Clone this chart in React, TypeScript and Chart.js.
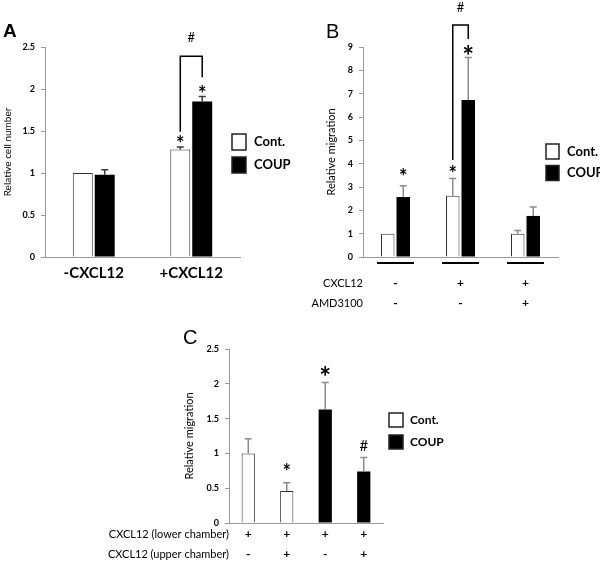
import React, { useEffect, useRef } from 'react';
import { Chart, registerables } from 'chart.js';
Chart.register(...registerables);

const FONT = 'Lato, "Open Sans", sans-serif';
const LETTER_FONT = '"Liberation Sans", Arial, sans-serif';

// ---------- Panel A data ----------
const aCategories = ['-CXCL12', '+CXCL12'];
const aCont = [1.0, 1.28];
const aContErr = [0, 0.03];
const aCoup = [0.98, 1.85];
const aCoupErr = [0.06, 0.06];

// ---------- Panel B data ----------
const bCxcl12 = ['-', '+', '+'];
const bAmd3100 = ['-', '-', '+'];
const bCont = [1.0, 2.63, 1.0];
const bContErr = [0, 0.73, 0.14];
const bCoup = [2.57, 6.73, 1.76];
const bCoupErr = [0.48, 1.82, 0.38];

// ---------- Panel C data ----------
const cLower = ['+', '+', '+', '+'];
const cUpper = ['-', '+', '-', '+'];
const cCont = [1.0, 0.46, null, null];
const cContErr = [0.21, 0.12, 0, 0];
const cCoup = [null, null, 1.63, 0.74];
const cCoupErr = [0, 0, 0.39, 0.2];

const seriesNames = ['Cont.', 'COUP'];

const decoPlugin: any = {
  id: 'deco',
  afterDatasetsDraw(chart: any, _a: any, o: any) {
    const ctx = chart.ctx;
    const ys = chart.scales.y;
    chart.data.datasets.forEach((ds: any, di: number) => {
      const meta = chart.getDatasetMeta(di);
      meta.data.forEach((el: any, i: number) => {
        const v = ds.data[i];
        const e = ds.errors ? ds.errors[i] : 0;
        if (v == null || !e) return;
        const top = ys.getPixelForValue(v + e);
        ctx.save();
        ctx.strokeStyle = o.errColor;
        ctx.lineWidth = o.errWidth;
        ctx.beginPath();
        ctx.moveTo(el.x, el.y);
        ctx.lineTo(el.x, top);
        ctx.moveTo(el.x - o.cap, top);
        ctx.lineTo(el.x + o.cap, top);
        ctx.stroke();
        ctx.restore();
      });
    });
  },
  afterDraw(chart: any, _a: any, o: any) {
    const ctx = chart.ctx;
    const ys = chart.scales.y;
    const xs = chart.scales.x;
    const barX = (ds: number, cat: number) => chart.getDatasetMeta(ds).data[cat].x;
    ctx.save();
    ctx.fillStyle = '#000';
    // panel letter
    ctx.font = o.letter.font;
    ctx.textAlign = 'left';
    ctx.textBaseline = 'alphabetic';
    ctx.fillText(o.letter.text, o.letter.x, o.letter.y);
    // significance marks
    (o.marks || []).forEach((m: any) => {
      const x = barX(m.ds, m.cat);
      const y = ys.getPixelForValue(m.y);
      ctx.font = `${m.text === '*' ? 'bold ' : ''}${m.size}px ${FONT}`;
      ctx.textAlign = 'center';
      if (m.text === '*') {
        ctx.textBaseline = 'alphabetic';
        ctx.fillText('*', x, y + m.size * 0.57);
      } else {
        ctx.textBaseline = 'middle';
        ctx.fillText(m.text, x, y);
      }
    });
    // brackets
    (o.brackets || []).forEach((b: any) => {
      const xl = barX(b.left, b.cat);
      const xr = barX(b.right, b.cat);
      const yl = ys.getPixelForValue(b.yLeft);
      const yt = ys.getPixelForValue(b.yTop);
      const yr = ys.getPixelForValue(b.yRight);
      ctx.strokeStyle = '#000';
      ctx.lineWidth = 1.5;
      ctx.beginPath();
      ctx.moveTo(xl, yl);
      ctx.lineTo(xl, yt);
      ctx.lineTo(xr, yt);
      ctx.lineTo(xr, yr);
      ctx.stroke();
      ctx.font = `${b.hashSize}px ${FONT}`;
      ctx.textAlign = 'center';
      ctx.textBaseline = 'middle';
      ctx.fillText('#', (xl + xr) / 2, ys.getPixelForValue(b.hashY));
    });
    // legend
    const L = o.legend;
    chart.data.datasets.forEach((ds: any, i: number) => {
      const bx = L.x;
      const by = L.y + i * L.gap;
      ctx.fillStyle = ds.backgroundColor;
      ctx.fillRect(bx, by, L.w, L.h);
      ctx.strokeStyle = '#222';
      ctx.lineWidth = 1.5;
      ctx.strokeRect(bx, by, L.w, L.h);
      ctx.fillStyle = '#000';
      ctx.font = L.font;
      ctx.textAlign = 'left';
      ctx.textBaseline = 'middle';
      ctx.fillText(ds.label, bx + L.w + L.textGap, by + L.h / 2);
    });
    // row headers under the x axis
    if (o.rows) {
      const R = o.rows;
      ctx.font = R.font;
      ctx.textAlign = 'right';
      ctx.textBaseline = 'middle';
      R.labels.forEach((t: string, i: number) => {
        ctx.fillText(t, chart.chartArea.left - R.gap, xs.top + R.pad + R.lh * (i + 0.5));
      });
    }
    // group underlines
    if (o.underline) {
      const U = o.underline;
      ctx.fillStyle = '#000';
      xs.ticks.forEach((_t: any, i: number) => {
        const cx = xs.getPixelForTick(i);
        ctx.fillRect(cx - U.w / 2, xs.top + U.dy, U.w, U.h);
      });
    }
    ctx.restore();
  },
};

const AXIS = '#9a9a9a';

function yScale(max: number, step: number, title: string, titleSize: number, titlePad: number, width: number) {
  return {
    min: 0,
    max,
    ticks: {
      stepSize: step,
      color: '#000',
      font: { family: FONT, size: 9, weight: 'bold' },
      padding: 6,
      callback: (v: any) => String(Number(v)),
    },
    grid: { display: true, drawOnChartArea: false, drawTicks: true, tickLength: 4, color: AXIS },
    border: { display: true, color: AXIS, width: 1 },
    title: { display: true, text: title, color: '#000', font: { family: FONT, size: titleSize }, padding: { top: titlePad, bottom: 0 } },
    afterFit: (s: any) => { s.width = width; },
  };
}

function xScale(font: any, pad: number, height: number, stacked = false) {
  return {
    stacked,
    grid: { display: false, drawTicks: false, tickLength: 0 },
    border: { display: true, color: AXIS, width: 1 },
    ticks: { color: '#000', font, padding: pad, maxRotation: 0, autoSkip: false },
    afterFit: (s: any) => { s.height = height; },
  };
}

const commonPlugins = { legend: { display: false }, tooltip: { enabled: false } };

const aConfig: any = {
  type: 'bar',
  data: {
    labels: aCategories,
    datasets: [
      { label: seriesNames[0], data: aCont, errors: aContErr, backgroundColor: '#ffffff', borderColor: '#333', borderWidth: 1 },
      { label: seriesNames[1], data: aCoup, errors: aCoupErr, backgroundColor: '#000000', borderColor: '#000', borderWidth: 0 },
    ],
  },
  options: {
    responsive: false,
    animation: false,
    layout: { padding: { left: 0, top: 47, right: 360, bottom: 272 } },
    datasets: { bar: { categoryPercentage: 0.45, barPercentage: 0.91 } },
    plugins: {
      ...commonPlugins,
      deco: {
        errColor: '#3a3a3a', errWidth: 1.5, cap: 3.5,
        letter: { text: 'A', x: 3, y: 37, font: `bold 19px ${LETTER_FONT}` },
        marks: [
          { cat: 1, ds: 0, y: 1.4, text: '*', size: 20 },
          { cat: 1, ds: 1, y: 1.99, text: '*', size: 20 },
        ],
        brackets: [{ cat: 1, left: 0, right: 1, yLeft: 1.49, yTop: 2.39, yRight: 2.14, hashY: 2.61, hashSize: 13 }],
        legend: { x: 232, y: 134, w: 14, h: 16, gap: 23, textGap: 8, font: `bold 13px ${FONT}` },
      },
    },
    scales: {
      x: xScale({ family: FONT, size: 15, weight: 'bold' }, 7, 33),
      y: yScale(2.5, 0.5, 'Relative cell number', 10, 2, 45),
    },
  },
  plugins: [decoPlugin],
};

const bConfig: any = {
  type: 'bar',
  data: {
    labels: bCxcl12.map((c, i) => [c, bAmd3100[i]]),
    datasets: [
      { label: seriesNames[0], data: bCont, errors: bContErr, backgroundColor: '#ffffff', borderColor: '#333', borderWidth: 1 },
      { label: seriesNames[1], data: bCoup, errors: bCoupErr, backgroundColor: '#000000', borderColor: '#000', borderWidth: 0 },
    ],
  },
  options: {
    responsive: false,
    animation: false,
    layout: { padding: { left: 300, top: 47, right: 42, bottom: 242 } },
    datasets: { bar: { categoryPercentage: 0.477, barPercentage: 0.87 } },
    plugins: {
      ...commonPlugins,
      deco: {
        errColor: '#8c8c8c', errWidth: 1.5, cap: 3.5,
        letter: { text: 'B', x: 326, y: 38, font: `20px ${LETTER_FONT}` },
        marks: [
          { cat: 0, ds: 1, y: 3.6, text: '*', size: 20 },
          { cat: 1, ds: 0, y: 3.73, text: '*', size: 20 },
          { cat: 1, ds: 1, y: 8.87, text: '*', size: 28 },
        ],
        brackets: [{ cat: 1, left: 0, right: 1, yLeft: 4.16, yTop: 9.94, yRight: 9.34, hashY: 10.7, hashSize: 13 }],
        legend: { x: 546, y: 144, w: 13, h: 15, gap: 21.5, textGap: 8, font: `bold 13px ${FONT}` },
        rows: { labels: ['CXCL12', 'AMD3100'], font: `11px ${FONT}`, gap: 0, pad: 16, lh: 20 },
        underline: { dy: 5, w: 37, h: 2 },
      },
    },
    scales: {
      x: xScale({ family: FONT, size: 12, weight: 'bold', lineHeight: '20px' }, 16, 63),
      y: yScale(9, 1, 'Relative migration', 11, 25, 63),
    },
  },
  plugins: [decoPlugin],
};

const cConfig: any = {
  type: 'bar',
  data: {
    labels: cLower.map((l, i) => [l, cUpper[i]]),
    datasets: [
      { label: seriesNames[0], data: cCont, errors: cContErr, backgroundColor: '#ffffff', borderColor: '#333', borderWidth: 1 },
      { label: seriesNames[1], data: cCoup, errors: cCoupErr, backgroundColor: '#000000', borderColor: '#000', borderWidth: 0 },
    ],
  },
  options: {
    responsive: false,
    animation: false,
    layout: { padding: { left: 150, top: 349, right: 217, bottom: 0 } },
    datasets: { bar: { categoryPercentage: 0.8, barPercentage: 0.43 } },
    plugins: {
      ...commonPlugins,
      deco: {
        errColor: '#8c8c8c', errWidth: 1.5, cap: 3.5,
        letter: { text: 'C', x: 183, y: 344, font: `20px ${LETTER_FONT}` },
        marks: [
          { cat: 1, ds: 0, y: 0.79, text: '*', size: 20 },
          { cat: 2, ds: 1, y: 2.19, text: '*', size: 28 },
          { cat: 3, ds: 1, y: 1.1, text: '#', size: 15 },
        ],
        legend: { x: 389, y: 413, w: 14, h: 14, gap: 22, textGap: 7, font: `bold 12px ${FONT}` },
        rows: { labels: ['CXCL12 (lower chamber)', 'CXCL12 (upper chamber)'], font: `11px ${FONT}`, gap: 0, pad: 1, lh: 20 },
      },
    },
    scales: {
      x: xScale({ family: FONT, size: 12, weight: 'bold', lineHeight: '20px' }, 1, 39, true),
      y: yScale(2.5, 0.5, 'Relative migration', 11, 33, 79),
    },
  },
  plugins: [decoPlugin],
};

function Panel({ config }: { config: any }) {
  const ref = useRef<HTMLCanvasElement>(null);
  useEffect(() => {
    const chart = new Chart(ref.current as HTMLCanvasElement, config);
    return () => chart.destroy();
  }, [config]);
  return (
    <canvas
      ref={ref}
      width={600}
      height={562}
      style={{ position: 'absolute', left: 0, top: 0, width: 600, height: 562 }}
    />
  );
}

export default function App() {
  return (
    <div style={{ position: 'absolute', left: 0, top: 0, width: 600, height: 562, background: '#fff' }}>
      <Panel config={aConfig} />
      <Panel config={bConfig} />
      <Panel config={cConfig} />
    </div>
  );
}
